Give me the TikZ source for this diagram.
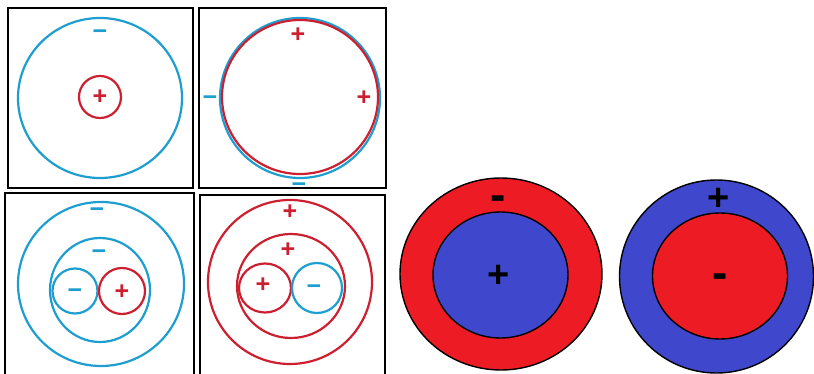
\documentclass[tikz,border=0pt]{standalone}
\usepackage{fontspec}
\setmainfont{Liberation Sans}
\usepackage{xcolor}
\definecolor{lineblue}{RGB}{30,158,208}
\definecolor{linered}{RGB}{204,32,48}
\definecolor{fillred}{RGB}{237,28,36}
\definecolor{fillblue}{RGB}{63,72,204}

\begin{document}
\begin{tikzpicture}[
    x=1pt, y=-1pt,
    frame/.style={draw=black, line width=2.4pt},
    bluering/.style={draw=lineblue, line width=2.2pt},
    redring/.style={draw=linered, line width=2.2pt},
    disc/.style={draw=black, line width=1.4pt, fill=#1},
    sgnblue/.style={text=lineblue, font=\fontsize{25}{25}\selectfont\bfseries, inner sep=0pt},
    sgnred/.style={text=linered, font=\fontsize{25}{25}\selectfont\bfseries, inner sep=0pt},
    bigsgn/.style={text=black, font=\fontsize{38}{38}\selectfont\bfseries, inner sep=0pt},
    bigdash/.style={text=black, font=\fontsize{46}{46}\selectfont\bfseries, inner sep=0pt},
]
\useasboundingbox (0,0) rectangle (814,374);

% Frames
\draw[frame] (8,8) rectangle (193,188);
\draw[frame] (199,8) rectangle (386,188);
\draw[frame] (5,380) |- (194,193) -- (194,380);
\draw[frame] (200,380) |- (385,195) -- (385,380);

% Panel 1: small positive core in a negative shell
\draw[bluering] (100,98) ellipse[x radius=82, y radius=80];
\draw[redring] (100,97) circle[radius=21];
\node[sgnblue] (m1) at (100,35) {−};
\node[sgnred] (p1) at (100,97) {+};

% Panel 2: both charges spread over one sphere
\draw[bluering] (300,98) circle[radius=80];
\draw[redring] (300,97) ellipse[x radius=78, y radius=77];
\node[sgnred] (p2a) at (298,35) {+};
\node[sgnred] (p2b) at (364,98) {+};
\node[sgnblue] (m2a) at (210,101) {−};
\node[sgnblue] (m2b) at (299,188) {−};

% Panel 3: negative shells round a pair
\draw[bluering] (101,284) ellipse[x radius=83, y radius=82];
\draw[bluering] (100,290) ellipse[x radius=50, y radius=52];
\draw[bluering] (75,291) circle[radius=22.5];
\draw[redring] (122,291) circle[radius=23];
\node[sgnblue] (m3a) at (97,213) {−};
\node[sgnblue] (m3b) at (99,255) {−};
\node[sgnblue] (m3c) at (75,294) {−};
\node[sgnred] (p3) at (122,292) {+};

% Panel 4: positive shells round a pair
\draw[redring] (290,282) circle[radius=82];
\draw[redring] (291,286) ellipse[x radius=54, y radius=52];
\draw[redring] (265,288) ellipse[x radius=26, y radius=24.5];
\draw[bluering] (317,288) circle[radius=25];
\node[sgnred] (p4a) at (290,212) {+};
\node[sgnred] (p4b) at (288,250) {+};
\node[sgnred] (p4c) at (263,285) {+};
\node[sgnblue] (m4) at (314,290) {−};

% Panel 5: negative outside, positive inside
\draw[disc=fillred] (501,274) ellipse[x radius=101, y radius=96];
\draw[disc=fillblue] (500.5,275) ellipse[x radius=67.5, y radius=63];
\node[bigdash] (m5) at (498,203) {-};
\node[bigsgn] (p5) at (499,276) {+};

% Panel 6: positive outside, negative inside
\draw[disc=fillblue] (716.5,276.5) ellipse[x radius=97, y radius=96.5];
\draw[disc=fillred] (720,276) ellipse[x radius=67.5, y radius=63];
\node[bigsgn] (p6) at (719,199) {+};
\node[bigdash] (m6) at (720,281) {-};

\end{tikzpicture}
\end{document}
